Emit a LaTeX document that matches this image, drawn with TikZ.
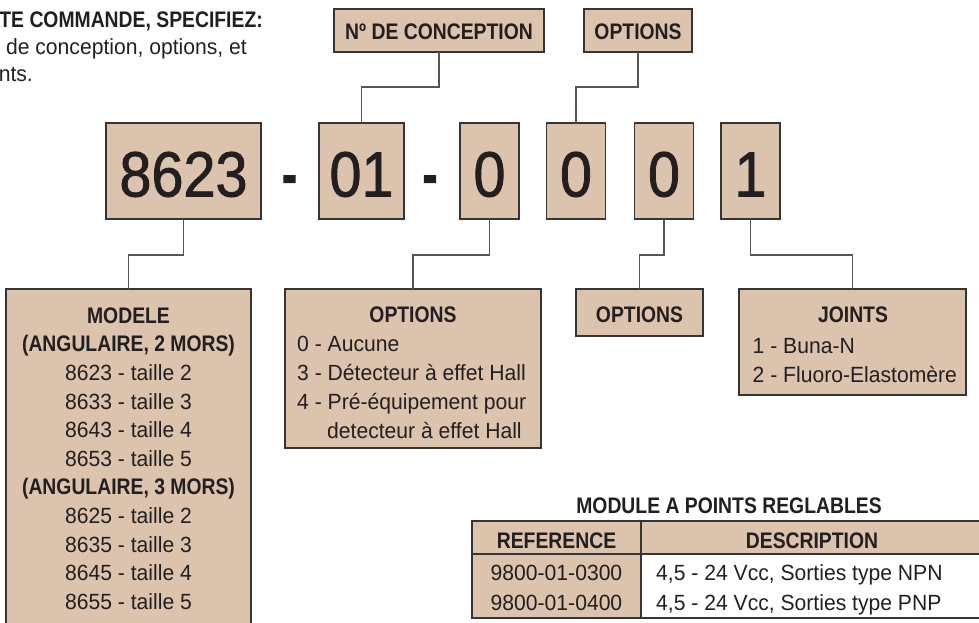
\documentclass[tikz,border=0pt]{standalone}
\usepackage{fontspec}
\setmainfont{Liberation Sans}
\newfontfamily\txfont{Liberation Sans}[FakeStretch=0.96]
\newfontfamily\hdfont{Liberation Sans}[FakeStretch=0.86]
\newfontfamily\digfont{Liberation Sans}[FakeStretch=0.9,FakeBold=1.2]
\newfontfamily\dashfont{Liberation Sans}[FakeStretch=0.8,FakeBold=4]
\definecolor{tanfill}{RGB}{219,195,173}
\definecolor{edgec}{RGB}{55,52,53}
\definecolor{inkc}{RGB}{35,31,32}
\definecolor{wirec}{RGB}{85,85,85}
\tikzset{
  box/.style={draw=edgec, line width=1.3pt, fill=tanfill, inner sep=0pt, outer sep=0pt},
  wire/.style={draw=wirec, line width=1.2pt},
  txt/.style={font=\txfont\fontsize{22}{26}\selectfont, text=inkc, inner sep=0pt},
  hd/.style={font=\hdfont\bfseries\fontsize{22.5}{26}\selectfont, text=inkc, inner sep=0pt},
  dig/.style={font=\digfont\fontsize{64}{64}\selectfont, text=inkc, inner sep=0pt, anchor=base},
  dashtxt/.style={font=\dashfont\bfseries\fontsize{50}{50}\selectfont, text=inkc, inner sep=0pt, anchor=base},
  tline/.style={draw=edgec, line width=1.8pt}
}
\begin{document}
\begin{tikzpicture}[x=1pt,y=-1pt]
\useasboundingbox (0,0) rectangle (979,622);
% top-left heading
\node[hd, anchor=base east] (h1) at (263,27) {TE COMMANDE, SPECIFIEZ:};
\node[txt, anchor=base east] (h2) at (247,54.5) {de conception, options, et};
\node[txt, anchor=base east] (h3) at (33,81) {nts.};
% top boxes
\node[box, minimum width=210pt, minimum height=43pt] (nde) at (439,30.5) {};
\node[hd, anchor=base] (lnde) at (439,39) {Nº DE CONCEPTION};
\node[box, minimum width=108pt, minimum height=43pt] (opt1) at (638,30.5) {};
\node[hd, anchor=base] (lopt1) at (638,39) {OPTIONS};
% big code boxes
\node[box, minimum width=155pt, minimum height=96pt] (b8623) at (183.5,171) {};
\node[box, minimum width=85pt, minimum height=96pt] (b01) at (361.5,171) {};
\node[box, minimum width=59pt, minimum height=96pt] (b0a) at (489.5,171) {};
\node[box, minimum width=59pt, minimum height=96pt] (b0b) at (576,171) {};
\node[box, minimum width=59pt, minimum height=96pt] (b0c) at (664,171) {};
\node[box, minimum width=59pt, minimum height=96pt] (b1) at (750.5,171) {};
\node[dig] (d8623) at (183.5,196.5) {8623};
\node[dig] (d01) at (361.5,196.5) {01};
\node[dig] (d0a) at (489.5,196.5) {0};
\node[dig] (d0b) at (576,196.5) {0};
\node[dig] (d0c) at (664,196.5) {0};
\node[dig] (d1) at (750.5,196.5) {1};
\node[dashtxt] (dash1) at (289.5,192) {-};
\node[dashtxt] (dash2) at (430,192) {-};
% bottom boxes
\node[box, minimum width=245pt, minimum height=351pt] (modele) at (128.5,464.5) {};
\node[box, minimum width=256pt, minimum height=159pt] (opt2) at (413,368.5) {};
\node[box, minimum width=127pt, minimum height=47pt] (opt3) at (639.5,312.5) {};
\node[box, minimum width=227pt, minimum height=106pt] (joints) at (852.5,342) {};
% connectors
\draw[wire] (nde.south) -- ++(0,35) -| (b01.north);
\draw[wire] (opt1.south) -- ++(0,35) -| (b0b.north);
\draw[wire] (b8623.south) -- ++(0,36) -| (modele.north);
\draw[wire] (b0a.south) -- ++(0,36) -| (opt2.north);
\draw[wire] (b0c.south) -- ++(0,36) -| (opt3.north);
\draw[wire] (b1.south) -- ++(0,36) -| (joints.north);
% MODELE text
\node[hd, anchor=base] (m1) at (128.5,323) {MODELE};
\node[hd, anchor=base] (m2) at (128.5,351.7) {(ANGULAIRE, 2 MORS)};
\node[txt, anchor=base] (m3) at (128.5,380.3) {8623 - taille 2};
\node[txt, anchor=base] (m4) at (128.5,409) {8633 - taille 3};
\node[txt, anchor=base] (m5) at (128.5,437.6) {8643 - taille 4};
\node[txt, anchor=base] (m6) at (128.5,466.3) {8653 - taille 5};
\node[hd, anchor=base] (m7) at (128.5,494.9) {(ANGULAIRE, 3 MORS)};
\node[txt, anchor=base] (m8) at (128.5,523.6) {8625 - taille 2};
\node[txt, anchor=base] (m9) at (128.5,552.2) {8635 - taille 3};
\node[txt, anchor=base] (m10) at (128.5,580.9) {8645 - taille 4};
\node[txt, anchor=base] (m11) at (128.5,609.5) {8655 - taille 5};
% OPTIONS text
\node[hd, anchor=base] (o1) at (413,322.7) {OPTIONS};
\node[txt, anchor=base west] (o2) at (297,351.7) {0 - Aucune};
\node[txt, anchor=base west] (o3) at (297,380.4) {3 - Détecteur à effet Hall};
\node[txt, anchor=base west] (o4) at (297,409.2) {4 - Pré-équipement pour};
\node[txt, anchor=base west] (o5) at (327,438.2) {detecteur à effet Hall};
\node[hd, anchor=base] (o6) at (639.5,322.7) {OPTIONS};
% JOINTS text
\node[hd, anchor=base] (j1) at (853,322.7) {JOINTS};
\node[txt, anchor=base west] (j2) at (752.5,353.3) {1 - Buna-N};
\node[txt, anchor=base west] (j3) at (752.5,382.3) {2 - Fluoro-Elastomère};
% table
\node[hd, anchor=base] (ttl) at (729,513) {MODULE A POINTS REGLABLES};
\fill[tanfill] (472,521) rectangle (986,554);
\fill[tanfill] (472,554) rectangle (641,618);
\fill[white] (641,554) rectangle (986,618);
\draw[tline] (472,521) rectangle (986,618);
\draw[tline] (472,554) -- (986,554);
\draw[tline] (641,521) -- (641,618);
\node[hd, anchor=base] (tr) at (556.5,548) {REFERENCE};
\node[hd, anchor=base] (td) at (812,548) {DESCRIPTION};
\node[txt, anchor=base] (r1a) at (556.5,580) {9800-01-0300};
\node[txt, anchor=base] (r2a) at (556.5,610.5) {9800-01-0400};
\node[txt, anchor=base west] (r1b) at (656,580) {4,5 - 24 Vcc, Sorties type NPN};
\node[txt, anchor=base west] (r2b) at (656,610.5) {4,5 - 24 Vcc, Sorties type PNP};
\end{tikzpicture}
\end{document}
